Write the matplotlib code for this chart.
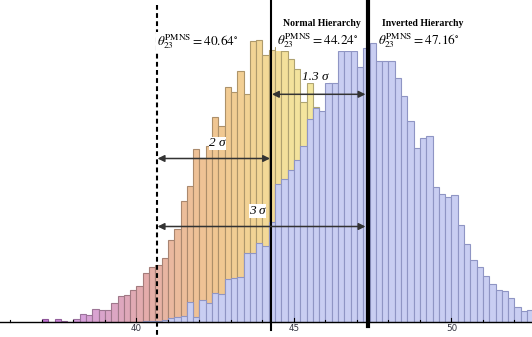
import numpy as np
import matplotlib
matplotlib.use("Agg")
import matplotlib.pyplot as plt
from matplotlib.colors import LinearSegmentedColormap

# --- histogram data (bin width 0.2 deg, counts) ---
bin_width = 0.2

orange_start = 37.0
orange_counts = [3, 0, 2.5, 1, 0, 3, 8, 7, 12.5, 11.5,
                 11.5, 18.5, 26, 26.7, 31.7, 36, 48.4, 55, 56.7, 63.4,
                 81.7, 92.4, 121, 135.7, 172.4, 164, 176, 204.4, 195.7, 235,
                 229.7, 251, 227.4, 281, 281.7, 266.7, 271.7, 274.7, 270.7, 263.2,
                 253.2, 219.7, 238.4, 214.5]

blue_start = 40.2
blue_counts = [0.5, 1, 1, 1.5, 3.5, 4.7, 5.7, 19.7, 4.3, 21.5,
               18.4, 29, 27.4, 42.4, 44, 45, 69, 69, 79, 75.7,
               100, 137.7, 142.7, 151.7, 161.7, 175.7, 202.4, 213.4, 210.7, 238.4,
               238.4, 271, 271, 271, 254.4, 273.7, 278.4, 260.7, 260.7, 260.7,
               243.4, 225.7, 200.7, 173.4, 183.4, 186.2, 135.2, 127.7, 124.7, 126.4,
               96.4, 77.4, 61.4, 54.7, 45.7, 37.4, 31.4, 30.4, 23.4, 15.2,
               10.4, 11.4]

# --- reference angles ---
theta_max = 40.64      # dashed
theta_nh = 44.27       # thin line
theta_ih = 47.35       # thick line
labels_theta = ["40.64", "44.24", "47.16"]

fig = plt.figure(figsize=(5.32, 3.37), dpi=100)
ax = fig.add_axes([0, 0, 1, 1])

# orange histogram, coloured along x
grad = LinearSegmentedColormap.from_list(
    "sunset", ["#C678D6", "#D7A0DC", "#DCA6C4", "#E4ACAA", "#ECBC9B",
               "#F0C692", "#F2D294", "#F3DF9A", "#F4E8A0"])
o_left = orange_start + bin_width * np.arange(len(orange_counts))
for x, h in zip(o_left, orange_counts):
    c = np.array(grad((x - 37.0) / (45.6 - 37.0))[:3])
    ax.bar(x, h, width=bin_width, align="edge", color=c,
           edgecolor=c * 0.72, linewidth=0.8, zorder=2)

# blue histogram on top
b_left = blue_start + bin_width * np.arange(len(blue_counts))
ax.bar(b_left, blue_counts, width=bin_width, align="edge", color="#C9CEF2",
       edgecolor="#8F95C4", linewidth=0.8, zorder=3)

# axis line and ticks
ax.axhline(0, color="black", lw=1.0, zorder=4)
for t in range(36, 53):
    ax.plot([t, t], [0, 4 if t % 5 == 0 else 2], color="black", lw=0.8, zorder=4)
for t in [40, 45, 50]:
    ax.text(t, -6.8, str(t), ha="center", va="center", fontsize=6.3,
            color="#333340")

# vertical lines
ax.plot([theta_max, theta_max], [317, -16], color="black", lw=1.5,
        linestyle=(0, (2.3, 1.6)), zorder=5)
ax.plot([theta_nh, theta_nh], [322, -8.3], color="black", lw=1.5, zorder=5)
ax.plot([theta_ih, theta_ih], [322, -4.3], color="black", lw=3.0, zorder=5)

# sigma arrows
arrow = dict(arrowstyle="<|-|>", color="#333333", lw=1.1,
             mutation_scale=10, shrinkA=0, shrinkB=0)
ax.annotate("", xy=(47.27, 227.4), xytext=(44.30, 227.4), arrowprops=arrow, zorder=6)
ax.annotate("", xy=(44.24, 163.2), xytext=(40.67, 163.2), arrowprops=arrow, zorder=6)
ax.annotate("", xy=(47.27, 95.2), xytext=(40.67, 95.2), arrowprops=arrow, zorder=6)

sig = dict(ha="center", va="center", fontsize=9.5, style="italic",
           family="Liberation Serif", zorder=7,
           bbox=dict(facecolor="white", edgecolor="none", pad=0.5))
ax.text(45.68, 245.0, "1.3 σ", **sig)
ax.text(42.57, 178.4, "2 σ", **sig)
ax.text(43.84, 110.7, "3 σ", **sig)

# hierarchy titles
ttl = dict(ha="center", va="center", fontsize=7, weight="bold",
           family="Liberation Serif", zorder=7)
ax.text(45.88, 298.7, "Normal Hierarchy", **ttl)
ax.text(49.08, 298.7, "Inverted Hierarchy", **ttl)

plt.rcParams["mathtext.fontset"] = "stix"
lab = dict(ha="left", va="center", fontsize=9.5, zorder=7,
           bbox=dict(facecolor="white", edgecolor="none", pad=0.3))
for xl, yl, s in zip([40.64, 44.45, 47.68], [279.7, 280.7, 280.7], labels_theta):
    ax.text(xl, yl, r"$\theta_{23}^{\mathrm{PMNS}} = " + s + r"^{\circ}$", **lab)

ax.set_xlim(35.667, 52.556)
ax.set_ylim(-15.3, 321.7)
ax.axis("off")

fig.savefig("out.png", dpi=100)
